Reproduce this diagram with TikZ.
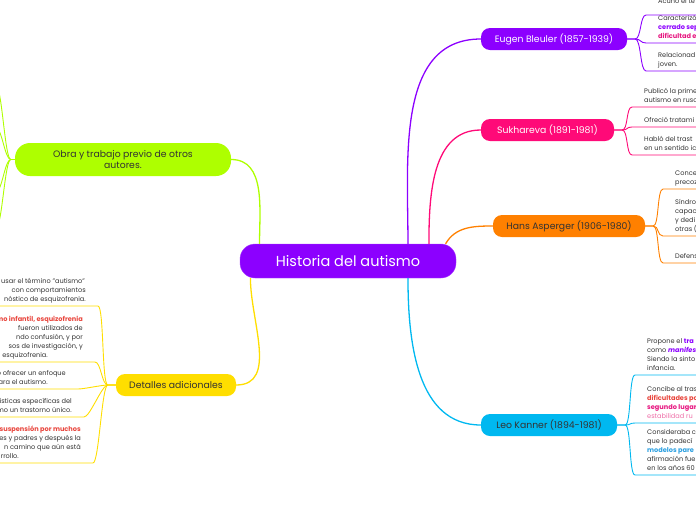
\documentclass[tikz,border=0pt]{standalone}
\usepackage{fontspec}
\setmainfont{Poppins}
\definecolor{violeta}{HTML}{8C00FF}
\definecolor{rosa}{HTML}{FF0A78}
\definecolor{naranja}{HTML}{FF8000}
\definecolor{celeste}{HTML}{00B8F0}
\definecolor{lima}{HTML}{AEFF00}
\definecolor{amarillo}{HTML}{FFDE00}
\definecolor{tinta}{HTML}{333333}
\definecolor{rojo}{HTML}{E8453C}
\definecolor{fucsia}{HTML}{E6157F}
\definecolor{rosaclaro}{HTML}{EE6FA8}
\definecolor{azul}{HTML}{2C9FE0}
\def\letrahoja{\fontsize{6.6}{9}\selectfont}

\begin{document}
\begin{tikzpicture}[x=1pt,y=-1pt,
    rama/.style={rounded corners=9pt, minimum height=22pt, inner sep=0pt, font=\fontsize{9.3}{11}\selectfont},
    hoja/.style={anchor=south west, inner xsep=0pt, inner ysep=4.5pt, text depth=0pt, align=left, font=\letrahoja, text=tinta},
    hojaizq/.style={hoja, anchor=south east, align=right},
    enlace/.style={line width=0.9pt},
    tronco/.style={line width=1.3pt}]
    \useasboundingbox (0,0) rectangle (696,520);
    \clip (0,0) rectangle (696,520);
    \coordinate (borde) at (710,0);
    \coordinate (bordei) at (-10,0);

    \node[rama, fill=violeta, draw=violeta!75!white, text=white, minimum width=216pt, minimum height=34pt, rounded corners=15pt, font=\fontsize{14.5}{18}\selectfont] (raiz) at (348,261) {Historia del autismo};

    \node[rama, fill=violeta, text=white, minimum width=146pt] (bleuler) at (554,39) {Eugen Bleuler (1857-1939)};
    \node[rama, fill=rosa, text=white, minimum width=133pt] (sukhareva) at (547.5,130) {Sukhareva (1891-1981)};
    \node[rama, fill=naranja, text=tinta, minimum width=152pt] (asperger) at (569,226) {Hans Asperger (1906-1980)};
    \node[rama, fill=celeste, text=tinta, minimum width=136pt] (kanner) at (549,425) {Leo Kanner (1894-1981)};
    \node[rama, fill=lima, text=tinta, minimum width=216pt, minimum height=33pt, rounded corners=15pt, align=center] (obra) at (123,159.5) {Obra y trabajo previo de otros\\autores.};
    \node[rama, fill=amarillo, text=tinta, minimum width=120pt] (detalles) at (176,385) {Detalles adicionales};

    \draw[tronco, violeta] (raiz.16.6) to[out=90, in=180] (bleuler.west);
    \draw[tronco, rosa] (raiz.12.8) to[out=90, in=180] (sukhareva.west);
    \draw[tronco, naranja] (raiz.10) to[out=60, in=180] (asperger.west);
    \draw[tronco, celeste] (raiz.-16.6) to[out=-90, in=180] (kanner.west);
    \draw[tronco, lima] (raiz.169.4) to[out=90, in=0] (obra.east);
    \draw[tronco, amarillo] (raiz.190.5) to[out=-90, in=0] (detalles.east);

    \node[hoja, inner ysep=11pt] (bleuler1) at (658,15) {Acuñó el té};
    \node[hoja] (bleuler2) at (658,43) {Caracterizó\\\textcolor{violeta}{\bfseries cerrado sep}\\\textcolor{fucsia}{\bfseries dificultad e}};
    \node[hoja] (bleuler3) at (658,71) {Relacionad\\joven.};
    \foreach \h in {1,2,3}
        \draw[enlace, violeta] (bleuler.east) -- ++(8,0) .. controls +(6,0) and +(-6,0) .. ([xshift=-12pt]bleuler\h.south west) -- (bleuler\h.south west -| borde);

    \node[hoja] (sukhareva1) at (644,107) {Publicó la prime\\autismo en ruso};
    \node[hoja] (sukhareva2) at (644,127) {Ofreció tratami};
    \node[hoja] (sukhareva3) at (644,155) {Habló del trast\\en un sentido ic};
    \foreach \h in {1,2,3}
        \draw[enlace, rosa] (sukhareva.east) -- ++(8,0) .. controls +(6,0) and +(-6,0) .. ([xshift=-12pt]sukhareva\h.south west) -- (sukhareva\h.south west -| borde);

    \node[hoja] (asperger1) at (675,189) {Conce\\precoz};
    \node[hoja] (asperger2) at (675,236) {Síndro\\capac\\y dedi\\otras (};
    \node[hoja] (asperger3) at (675,263) {Defens};
    \foreach \h in {1,2,3}
        \draw[enlace, naranja] (asperger.east) -- ++(8,0) .. controls +(6,0) and +(-6,0) .. ([xshift=-12pt]asperger\h.south west) -- (asperger\h.south west -| borde);

    \node[hoja] (kanner1) at (647,375) {Propone el \textcolor{violeta}{\bfseries tra}\\como \textcolor{violeta}{\bfseries\itshape manifes}\\Siendo la sinto\\infancia.};
    \node[hoja] (kanner2) at (647,423) {Concibe al tras\\\textcolor{rojo}{\bfseries dificultades po}\\\textcolor{fucsia}{\bfseries segundo lugar}\\\textcolor{rosaclaro}{estabilidad ru}};
    \node[hoja] (kanner3) at (647,475) {Consideraba c\\que lo padecí\\\textcolor{azul}{\bfseries modelos pare}\\afirmación fue\\en los años 60};
    \foreach \h in {1,2,3}
        \draw[enlace, celeste] (kanner.east) -- ++(8,0) .. controls +(6,0) and +(-6,0) .. ([xshift=-12pt]kanner\h.south west) -- (kanner\h.south west -| borde);

    \node[hojaizq] (detalles1) at (86,306) {usar el término "autismo"\hspace*{1pt}\\con comportamientos\hspace*{2pt}\\nóstico de esquizofrenia.};
    \node[hojaizq] (detalles2) at (83,362) {\textcolor{rojo}{\bfseries mo infantil, esquizofrenia}\\fueron utilizados de\hspace*{14pt}\\ndo confusión, y por\hspace*{14pt}\\sos de investigación, y\hspace*{8pt}\\esquizofrenia.\hspace*{35pt}};
    \node[hojaizq] (detalles3) at (66,389) {o ofrecer un enfoque\\ara el autismo.\hspace*{18pt}};
    \node[hojaizq] (detalles4) at (72,417) {ísticas específicas del\\mo un trastorno único.};
    \node[hojaizq] (detalles5) at (81,463) {\textcolor{rojo}{\bfseries suspensión por muchos}\\es y padres y después la\\n camino que aún está\hspace*{4pt}\\rrollo.\hspace*{62pt}};
    \foreach \h in {1,...,5}
        \draw[enlace, amarillo] (detalles.west) -- ++(-8,0) .. controls +(-6,0) and +(6,0) .. ([xshift=12pt]detalles\h.south east) -- (detalles\h.south east -| bordei);

    \foreach \y [count=\i] in {86,128,192,228}
        \coordinate (obra\i) at (-4,\y);
    \foreach \i in {1,...,4}
        \draw[enlace, lima] (obra.west) -- ++(-4,0) .. controls +(-6,0) and +(6,0) .. (obra\i) -- ++(-10,0);
\end{tikzpicture}
\end{document}
